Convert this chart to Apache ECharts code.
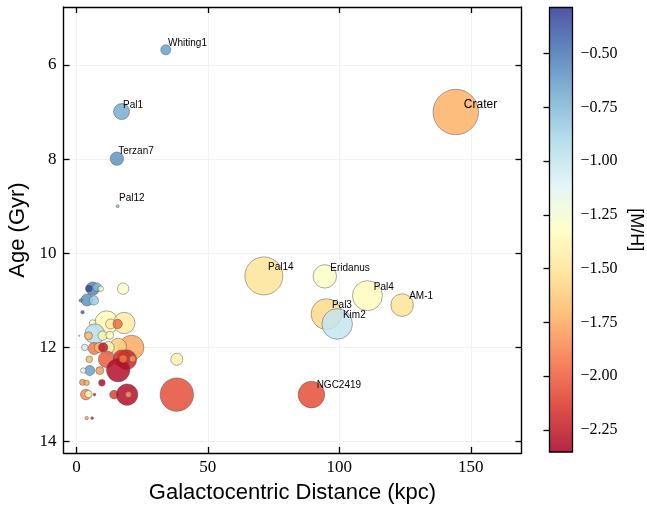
<!DOCTYPE html>
<html><head><meta charset="utf-8">
<script src="https://cdn.jsdelivr.net/npm/echarts@6/dist/echarts.min.js"></script>
<style>html,body{margin:0;padding:0;background:#fff}#c{width:647px;height:506px}</style>
</head><body><div id="c"></div>
<script>
// ---- data ----
const names = ['Crater','Pal14','NGC2419','Pal3','Kim2','Pal4','Eridanus','AM-1','Pal1','Terzan7','Whiting1','Pal12',
  '','','','','','','','','','','','','','','','','','','','','','','','','','','','','','','','','','','','','','','','','','','','','','',''];
const distance = [144.3, 71.3, 89.4, 95.1, 99.2, 110.7, 94.5, 123.9, 17.2, 15.4, 34.0, 15.7,
  38.2, 38.2, 6.2, 7.9, 4.75, 9.3, 4.1, 6.65, 1.7, 2.35, 17.8, 11.5, 18.2, 6.2, 13.0, 15.7, 7.0, 4.6, 10.0, 12.7, 1.1,
  21.0, 15.9, 12.1, 3.2, 6.8, 8.7, 10.2, 11.5, 19.1, 17.2, 15.9, 21.4, 17.8, 4.9, 5.1, 2.6, 8.9, 2.35, 3.9, 9.7,
  3.6, 4.6, 6.9, 14.3, 19.3, 19.8, 3.9, 6.0];
const age = [7.0, 10.48, 13.0, 11.29, 11.5, 10.9, 10.49, 11.1, 6.99, 7.99, 5.68, 9.0,
  12.25, 13.0, 10.75, 10.72, 10.75, 10.75, 10.99, 11.0, 11.0, 11.25, 10.75, 11.47, 11.48, 11.48, 11.5, 11.5, 11.71, 11.75, 11.75, 11.74, 11.75,
  12.0, 11.98, 12.0, 12.0, 12.02, 12.0, 12.0, 12.25, 12.26, 12.23, 12.48, 12.24, 12.24, 12.25, 12.49, 12.49, 12.49, 12.74, 12.75, 12.75,
  13.0, 12.99, 13.0, 13.0, 13.0, 13.0, 13.5, 13.5];
const metallicity = [-1.72, -1.5, -2.05, -1.55, -1.0, -1.33, -1.3, -1.5, -0.7, -0.6, -0.65, -0.8,
  -1.4, -2.05, -0.55, -0.75, -0.35, -1.3, -0.6, -0.85, -0.55, -0.45, -1.3, -1.35, -1.45, -1.3, -1.45, -1.95, -0.95, -1.7, -1.4, -1.35, -1.1,
  -1.75, -1.6, -1.4, -1.05, -1.9, -1.7, -2.25, -2.0, -2.2, -2.15, -2.3, -1.8, -1.9, -1.7, -0.65, -1.15, -1.8, -1.8, -1.75, -2.3,
  -1.85, -1.35, -2.2, -2.1, -2.3, -1.8, -1.75, -2.15];
const sizeVal = [22.7, 19, 13.3, 15.3, 15.3, 15, 11.7, 11.3, 8, 6.7, 5, 1.5,
  6, 16.7, 6.7, 4.3, 3.3, 2.7, 6, 4.7, 1.7, 1.7, 5.7, 11.7, 10.7, 3.3, 5, 4.7, 10, 4, 4.7, 4, 0.7,
  12.3, 8.3, 6, 3.3, 6, 5, 4.7, 8.3, 10, 8.3, 11.7, 3.3, 4, 3.3, 5, 2.7, 4, 3, 2.7, 3.3,
  5.3, 3.7, 1.3, 4.3, 10.7, 3, 1.7, 1.3];
const xTicks = [0, 50, 100, 150];
const yTicks = [6, 8, 10, 12, 14];
const cbTicks = [-2.25, -2.0, -1.75, -1.5, -1.25, -1.0, -0.75, -0.5];
const cbMin = -2.352, cbMax = -0.286;

const RdYlBu = ['#a50026','#d73027','#f46d43','#fdae61','#fee090','#ffffbf','#e0f3f8','#abd9e9','#74add1','#4575b4','#313695'];
function hexA(h, a){const n=parseInt(h.slice(1),16);return `rgba(${n>>16},${(n>>8)&255},${n&255},${a})`;}

const pts = distance.map((d,i)=>[d, age[i], metallicity[i], sizeVal[i], names[i]]);
const labelPts = pts.filter(p=>p[4]).map(p=>({
  value:[p[0]*1.02, p[1]*0.99], name:p[4],
  label:{fontSize: p[4]==='Crater' ? 12 : 10}
}));

const sans = 'Liberation Sans', serif = 'Liberation Serif';
const tickLine = {color:'#000', width:1.3};
const axLine = {onZero:false, lineStyle:{color:'#000', width:1.4}};
const minus = v => (v<0?'\u2212':'') + Math.abs(v).toFixed(2);

const chart = echarts.init(document.getElementById('c'), null, {renderer:'canvas'});
chart.setOption({
  animation:false,
  backgroundColor:'#fff',
  grid:[
    {left:63.5, top:7, width:458, height:446, outerBoundsMode:'none', containLabel:false},
    {left:549.5, top:7.5, width:23, height:444.5, outerBoundsMode:'none', containLabel:false,
     show:true, borderColor:'#000', borderWidth:1.3,
     backgroundColor:{type:'linear', x:0, y:0, x2:0, y2:1,
       colorStops: RdYlBu.slice().reverse().map((c,i)=>({offset:i/10, color:hexA(c,0.85)}))}}
  ],
  xAxis:[
    {gridIndex:0, type:'value', min:-4.9, max:169.3, splitNumber:4, position:'bottom',
     axisLine:axLine, axisTick:{inside:true, length:6, customValues:xTicks, lineStyle:tickLine},
     axisLabel:{customValues:xTicks, fontFamily:serif, fontSize:17, color:'#000', margin:6},
     splitLine:{show:true, lineStyle:{color:'#ededed', width:0.8}},
     name:'Galactocentric Distance (kpc)', nameLocation:'middle', nameGap:29,
     nameTextStyle:{fontFamily:sans, fontSize:22, color:'#000'}},
    {gridIndex:0, type:'value', min:-4.9, max:169.3, position:'top',
     axisLine:axLine, axisTick:{inside:true, length:6, customValues:xTicks, lineStyle:tickLine},
     axisLabel:{show:false}, splitLine:{show:false}},
    {gridIndex:1, type:'value', min:0, max:1, show:false}
  ],
  yAxis:[
    {gridIndex:0, type:'value', inverse:true, min:4.77, max:14.24, splitNumber:5, position:'left',
     axisLine:axLine, axisTick:{inside:true, length:6, customValues:yTicks, lineStyle:tickLine},
     axisLabel:{customValues:yTicks, fontFamily:serif, fontSize:17, color:'#000', margin:7},
     splitLine:{show:true, lineStyle:{color:'#ededed', width:0.8}},
     name:'Age (Gyr)', nameLocation:'middle', nameGap:34,
     nameTextStyle:{fontFamily:sans, fontSize:22, color:'#000'}},
    {gridIndex:0, type:'value', inverse:true, min:4.77, max:14.24, position:'right',
     axisLine:axLine, axisTick:{inside:true, length:6, customValues:yTicks, lineStyle:tickLine},
     axisLabel:{show:false}, splitLine:{show:false}},
    {gridIndex:1, type:'value', min:cbMin, max:cbMax, position:'right',
     axisLine:{show:false}, axisTick:{inside:true, length:6, customValues:cbTicks, lineStyle:tickLine},
     axisLabel:{customValues:cbTicks, formatter:minus, fontFamily:serif, fontSize:16, color:'#000', margin:8},
     splitLine:{show:false},
     name:'[M/H]', nameLocation:'middle', nameRotate:-90, nameGap:54,
     nameTextStyle:{fontFamily:sans, fontSize:18, color:'#000'}}
  ],
  visualMap:{type:'continuous', show:false, seriesIndex:0, dimension:2, min:cbMin, max:cbMax,
    inRange:{color:RdYlBu}},
  series:[
    {type:'scatter', xAxisIndex:0, yAxisIndex:0, data:pts,
     symbolSize:v=>v[3]*2,
     itemStyle:{opacity:0.84, borderColor:'#555', borderWidth:0.6}},
    {type:'scatter', xAxisIndex:0, yAxisIndex:0, data:labelPts, silent:true, z:5,
     symbolSize:1, itemStyle:{color:'rgba(0,0,0,0)'},
     label:{show:true, position:[1,2], align:'left', verticalAlign:'bottom',
       formatter:'{b}', fontFamily:sans, color:'#000', opacity:1}}
  ]
});
</script></body></html>
